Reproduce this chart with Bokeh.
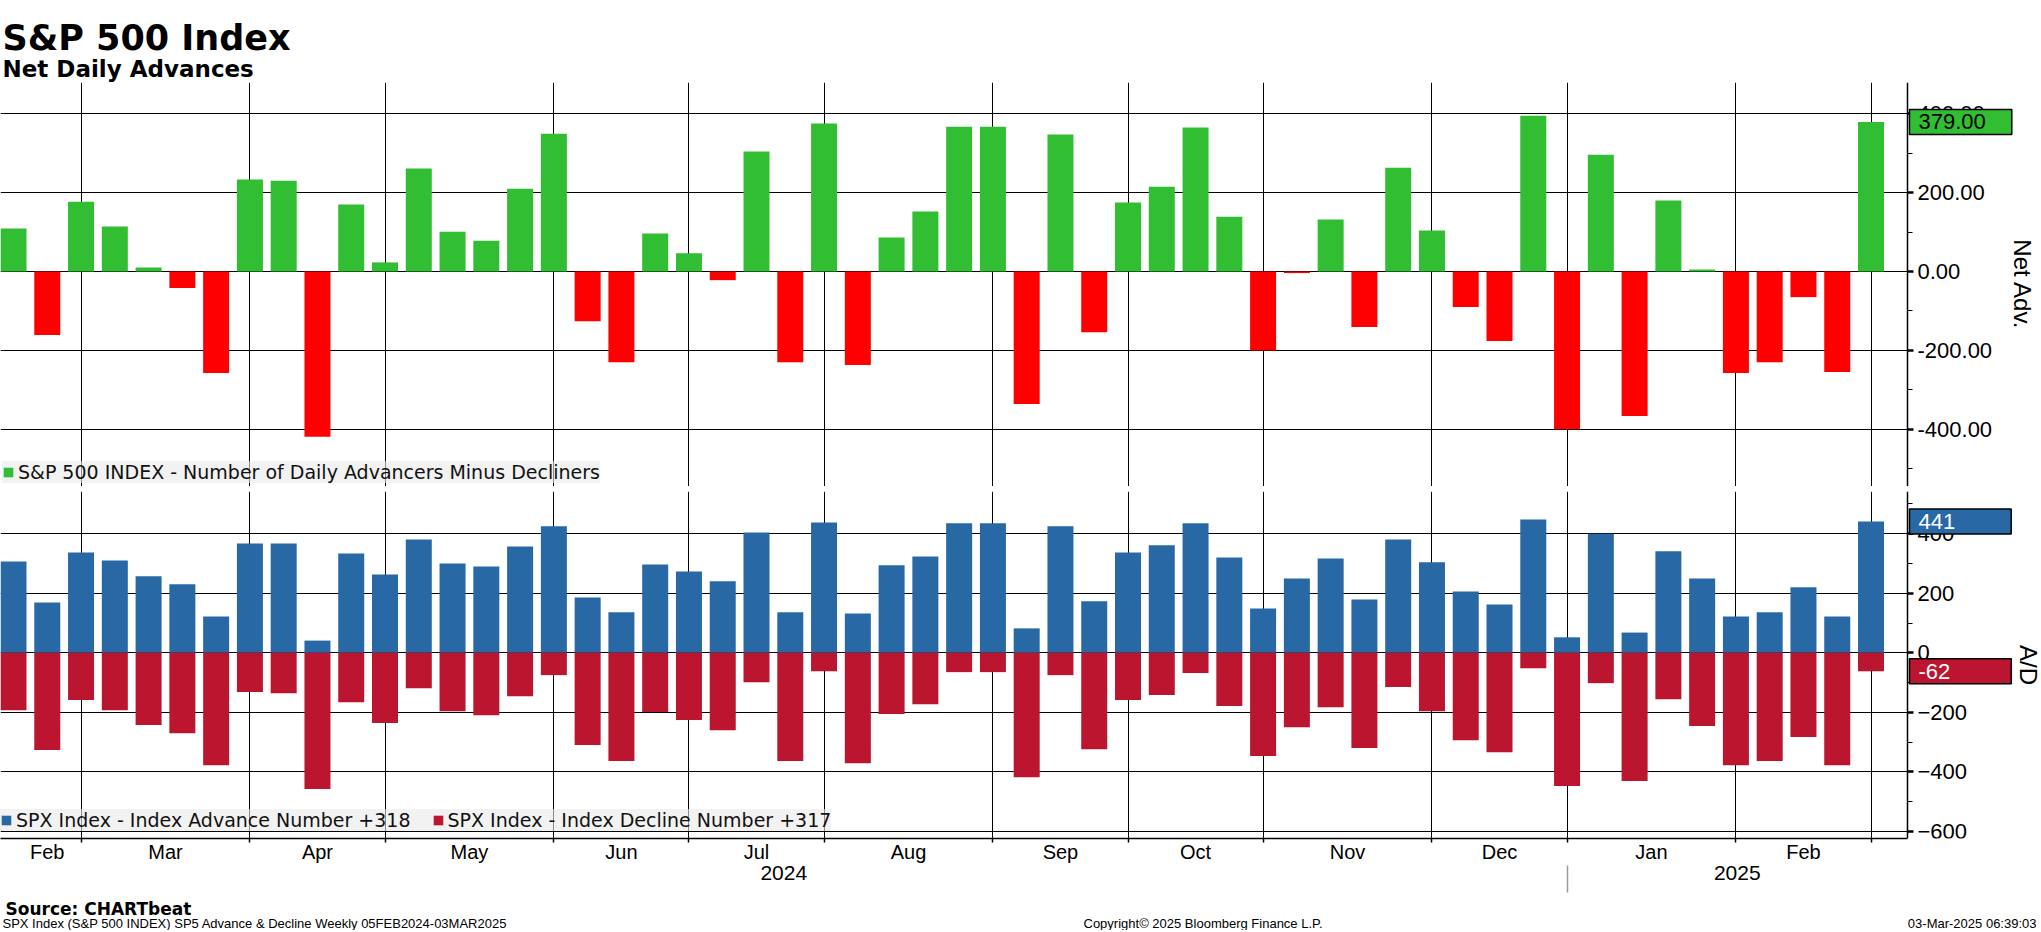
import pandas as pd
from bokeh.plotting import figure
from bokeh.models import (Range1d, LinearAxis, FixedTicker, Grid, Legend, LegendItem,
                          Label, NumeralTickFormatter, ColumnDataSource, BoxAnnotation)
from bokeh.layouts import column
from bokeh.embed import file_html
from bokeh.resources import INLINE

# ---------------- data ----------------
weeks = pd.date_range("2024-02-16", periods=56, freq="W-FRI")

net_adv = [109, -161, 177, 114, 10, -42, -257, 233, 230, -419,
           170, 23, 261, 101, 78, 210, 349, -126, -230, 96,
           46, -22, 304, -230, 375, -237, 86, 152, 367, 367,
           -336, 347, -154, 175, 215, 365, 139, -200, -4, 132,
           -141, 263, 104, -90, -176, 395, -400, 296, -366, 180,
           5, -257, -230, -65, -255, 379]

advances = [307, 169, 337, 310, 257, 230, 122, 367, 367, 41,
            334, 263, 381, 300, 290, 357, 425, 186, 136, 297,
            273, 240, 404, 136, 438, 132, 294, 324, 435, 435,
            82, 425, 173, 337, 361, 435, 320, 149, 250, 317,
            179, 381, 304, 206, 162, 448, 52, 400, 68, 341,
            250, 122, 136, 220, 122, 441]

declines = [-193, -327, -159, -193, -243, -270, -378, -132, -136, -458,
            -166, -236, -119, -196, -210, -146, -75, -310, -364, -199,
            -226, -260, -99, -364, -62, -371, -206, -173, -65, -65,
            -418, -75, -324, -159, -142, -68, -179, -347, -250, -183,
            -320, -115, -196, -294, -334, -52, -448, -102, -431, -156,
            -246, -378, -364, -283, -378, -62]

net_label = "S&P 500 INDEX - Number of Daily Advancers Minus Decliners"
adv_label = "SPX Index - Index Advance Number +318"
dec_label = "SPX Index - Index Decline Number +317"

top_ticks = [-400, -200, 0, 200, 400]
top_minor = [-500, -300, -100, 100, 300]
bot_ticks = [-600, -400, -200, 0, 200, 400]
bot_minor = [-500, -300, -100, 100, 300, 500]

# ---------------- derived positions ----------------
xs = list(range(len(weeks)))
bounds = [i for i in range(1, len(weeks)) if weeks[i].month != weeks[i - 1].month]
segs = [0] + bounds
month_mids = [(segs[k] + segs[k + 1]) / 2 for k in range(len(segs) - 1)]
month_names = [weeks[segs[k]].strftime("%b") for k in range(len(segs) - 1)]
year_bound = [i for i in range(1, len(weeks)) if weeks[i].year != weeks[i - 1].year][0]

W = 2041
X0, X1 = -0.385, 60.048      # frame spans the full page width
AX = 56.08                   # where the value axis sits
year_mids = [(X0 + year_bound) / 2, (year_bound + AX) / 2]
year_names = [str(weeks[0].year), str(weeks[-1].year)]

GREEN = "#32be32"
RED = "#ff0000"
BLUE = "#2869a5"
DRED = "#bb1530"
BAR_W = 0.77

pos_i = [i for i, v in enumerate(net_adv) if v >= 0]
neg_i = [i for i, v in enumerate(net_adv) if v < 0]
src_pos = ColumnDataSource(dict(x=[xs[i] for i in pos_i], top=[net_adv[i] for i in pos_i]))
src_neg = ColumnDataSource(dict(x=[xs[i] for i in neg_i], top=[net_adv[i] for i in neg_i]))
src_ad = ColumnDataSource(dict(x=xs, adv=advances, dec=declines))


def base_fig(h, xr, yr, **kw):
    f = figure(frame_width=W, frame_height=h, x_range=xr, y_range=yr,
               toolbar_location=None, output_backend="svg", min_border=0,
               outline_line_color=None, background_fill_color=kw.pop("bg", "white"),
               border_fill_color=kw.pop("bfill", "white"), **kw)
    f.grid.visible = False
    return f


def style_right_axis(ax, ticks, minor, label, standoff):
    ax.fixed_location = AX
    ax.ticker = FixedTicker(ticks=ticks, minor_ticks=minor)
    ax.axis_line_color = "black"
    ax.axis_line_width = 1.5
    ax.major_tick_out = 6
    ax.major_tick_in = 0
    ax.major_tick_line_width = 2.5
    ax.major_tick_line_color = "black"
    ax.minor_tick_out = 5
    ax.minor_tick_in = 0
    ax.minor_tick_line_color = "black"
    ax.major_label_standoff = 4
    ax.major_label_text_font = "Liberation Sans"
    ax.major_label_text_font_size = "22px"
    ax.major_label_text_color = "black"
    ax.axis_label = label
    ax.axis_label_text_font = "Liberation Sans"
    ax.axis_label_text_font_style = "normal"
    ax.axis_label_text_font_size = "24px"
    ax.axis_label_text_color = "black"
    ax.axis_label_standoff = standoff


def value_grid(fig):
    g = fig.ygrid[0]
    g.visible = True
    g.grid_line_color = "black"
    g.grid_line_width = 1
    fig.add_layout(Grid(dimension=0, ticker=FixedTicker(ticks=bounds),
                        grid_line_color="black", grid_line_width=1))
    fig.add_layout(BoxAnnotation(left=AX, fill_color="white", fill_alpha=1,
                                 line_color=None, level="glyph"))


def tag(value, text, fill, color, right_pad):
    return Label(x=AX, y=value, x_offset=2, text=text,
                 text_font="Liberation Sans", text_font_size="22px", text_color=color,
                 text_baseline="middle", text_align="left",
                 background_fill_color=fill, border_line_color="black", border_line_width=1.5,
                 padding=dict(left=9, right=right_pad, top=5, bottom=5))


# ---------------- header ----------------
header = base_fig(82, Range1d(0, W), Range1d(82, 0), x_axis_location=None, y_axis_location=None)
header.add_layout(Label(x=2, y=37, text="S&P 500 Index", text_font="DejaVu Sans",
                        text_font_style="bold", text_font_size="35px", text_color="black",
                        text_baseline="alphabetic"))
header.add_layout(Label(x=2, y=68, text="Net Daily Advances", text_font="DejaVu Sans",
                        text_font_style="bold", text_font_size="23px", text_color="black",
                        text_baseline="alphabetic"))

# ---------------- top panel ----------------
xr = Range1d(X0, X1)
fig1 = base_fig(404, xr, Range1d(-545, 479), x_axis_location=None, y_axis_location="right")
style_right_axis(fig1.yaxis[0], top_ticks, top_minor, "Net Adv.", 14)
fig1.yaxis[0].formatter = NumeralTickFormatter(format="0.00")
value_grid(fig1)

r_pos = fig1.vbar(x="x", top="top", bottom=0, width=BAR_W, source=src_pos, fill_color=GREEN, line_color=None)
fig1.vbar(x="x", top="top", bottom=0, width=BAR_W, source=src_neg, fill_color=RED, line_color=None)

leg1 = Legend(items=[LegendItem(label=net_label, renderers=[r_pos])], location=(2, 3),
              padding=11, margin=0, glyph_width=12, glyph_height=12, label_standoff=4,
              label_text_font="DejaVu Sans", label_text_font_size="19px", label_text_color="#111111",
              label_height=20, background_fill_color="#e9e9e9", background_fill_alpha=0.6,
              border_line_color=None)
fig1.add_layout(leg1)
fig1.add_layout(tag(net_adv[-1], f"{net_adv[-1]:.2f}", GREEN, "black", 26))

# ---------------- separator ----------------
sep = base_fig(5, Range1d(0, 1), Range1d(0, 1), x_axis_location=None, y_axis_location=None,
               bg="#3c3c3c", bfill="#3c3c3c")

# ---------------- bottom panel ----------------
fig2 = base_fig(347, xr, Range1d(-624, 542), x_axis_location=None, y_axis_location="right",
                min_border_bottom=55)
style_right_axis(fig2.yaxis[0], bot_ticks, bot_minor, "A/D", 45)
value_grid(fig2)

r_adv = fig2.vbar(x="x", top="adv", bottom=0, width=BAR_W, source=src_ad, fill_color=BLUE, line_color=None)
r_dec = fig2.vbar(x="x", top="dec", bottom=0, width=BAR_W, source=src_ad, fill_color=DRED, line_color=None)

month_axis = LinearAxis(ticker=FixedTicker(ticks=month_mids, minor_ticks=bounds), bounds=(X0, AX),
                        major_label_overrides={m: n for m, n in zip(month_mids, month_names)},
                        axis_line_color="black", axis_line_width=1.5,
                        major_tick_out=0, major_tick_in=0, minor_tick_out=4, minor_tick_in=0,
                        minor_tick_line_color="black", minor_tick_line_width=1.5,
                        major_label_standoff=-2, major_label_text_font="Liberation Sans",
                        major_label_text_font_size="20px", major_label_text_color="black")
fig2.add_layout(month_axis, "below")
year_axis = LinearAxis(ticker=FixedTicker(ticks=year_mids, minor_ticks=[year_bound]),
                       major_label_overrides={m: n for m, n in zip(year_mids, year_names)},
                       axis_line_color=None, major_tick_out=0, major_tick_in=0,
                       minor_tick_out=27, minor_tick_in=0, minor_tick_line_color="#9a9a9a",
                       minor_tick_line_width=1.5, major_label_standoff=-27,
                       major_label_text_font="Liberation Sans", major_label_text_font_size="21px",
                       major_label_text_color="black")
fig2.add_layout(year_axis, "below")

leg2 = Legend(items=[LegendItem(label=adv_label, renderers=[r_adv]),
                     LegendItem(label=dec_label, renderers=[r_dec])],
              location=(0, 7), orientation="horizontal", spacing=21,
              padding=10, margin=0, glyph_width=12, glyph_height=12, label_standoff=4,
              label_text_font="DejaVu Sans", label_text_font_size="19px", label_text_color="#111111",
              label_height=20, background_fill_color="#e9e9e9", background_fill_alpha=0.6,
              border_line_color=None)
fig2.add_layout(leg2)
fig2.add_layout(tag(advances[-1], f"{advances[-1]}", BLUE, "white", 56))
fig2.add_layout(tag(declines[-1], f"{declines[-1]}", DRED, "white", 61))

# ---------------- footer ----------------
footer = base_fig(37, Range1d(0, W), Range1d(930, 893), x_axis_location=None, y_axis_location=None)
footer.add_layout(Label(x=5, y=908, text="Source: CHARTbeat", text_font="DejaVu Sans",
                        text_font_style="bold", text_font_size="17px", text_color="black",
                        text_baseline="alphabetic"))
footer.add_layout(Label(x=2, y=923,
                        text="SPX Index (S&P 500 INDEX) SP5 Advance & Decline  Weekly 05FEB2024-03MAR2025",
                        text_font="Liberation Sans", text_font_size="13px", text_color="black",
                        text_baseline="alphabetic"))
footer.add_layout(Label(x=1083, y=923, text="Copyright\u00a9 2025 Bloomberg Finance L.P.",
                        text_font="Liberation Sans", text_font_size="13px", text_color="black",
                        text_baseline="alphabetic"))
footer.add_layout(Label(x=2036, y=923, text="03-Mar-2025 06:39:03", text_align="right",
                        text_font="Liberation Sans", text_font_size="13px", text_color="black",
                        text_baseline="alphabetic"))

layout = column(header, fig1, sep, fig2, footer, spacing=0)

open("out.html", "w").write(file_html(layout, INLINE))
